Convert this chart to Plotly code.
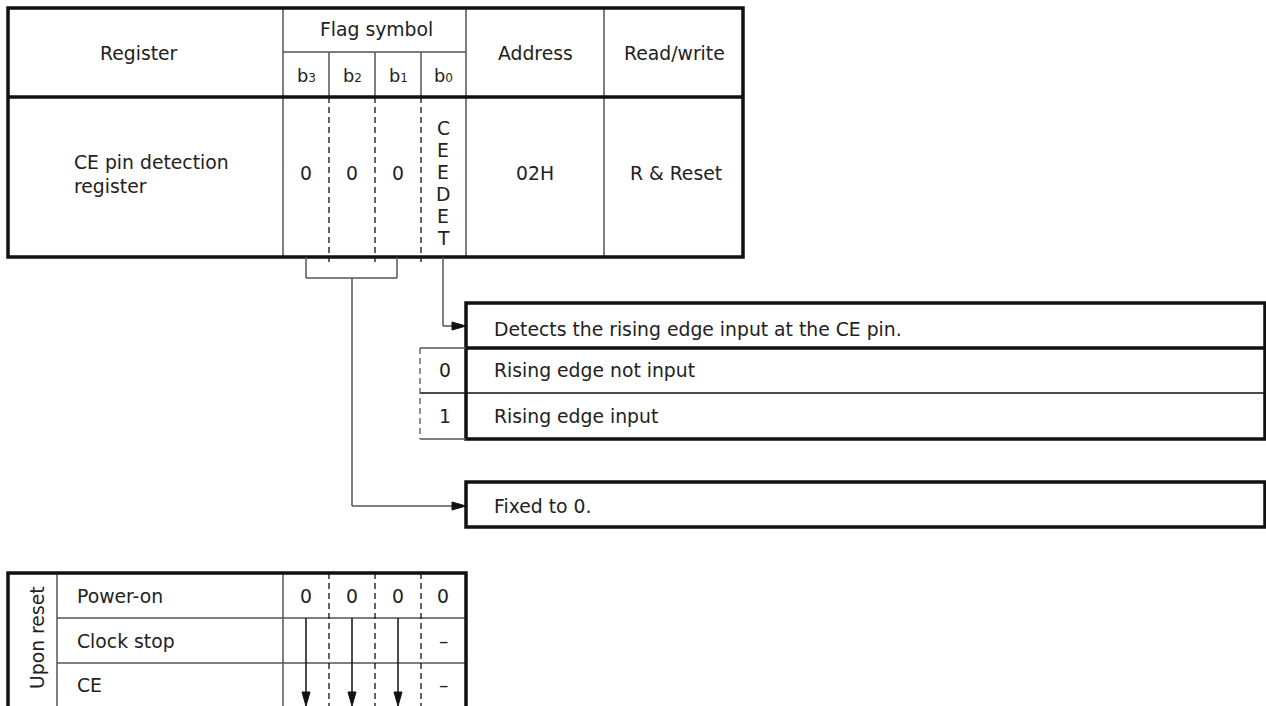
import plotly.graph_objects as go

# ---- content (text data) ----
header_labels = ["Register", "Flag symbol", "Address", "Read/write"]
bit_names = ["b", "b", "b", "b"]
bit_indices = ["3", "2", "1", "0"]
register_name = ["CE pin detection", "register"]
bit_values = ["0", "0", "0"]
flag_name = ["C", "E", "E", "D", "E", "T"]
address = "02H"
read_write = "R & Reset"
ceedet_desc = "Detects the rising edge input at the CE pin."
ceedet_states = ["0", "1"]
ceedet_meanings = ["Rising edge not input", "Rising edge input"]
fixed_desc = "Fixed to 0."
reset_title = "Upon reset"
reset_rows = ["Power-on", "Clock stop", "CE"]
reset_poweron = ["0", "0", "0", "0"]
reset_b0_other = ["–", "–"]

FONT = "DejaVu Sans, Verdana, sans-serif"
FS = 18.8
BLACK = "#111111"
GRAY = "#555555"
TXT = "#222222"

shapes = []
annots = []

def line(x0, y0, x1, y1, w=1.5, color=GRAY, dash=None):
    d = dict(type="line", x0=x0, y0=y0, x1=x1, y1=y1, xref="x", yref="y",
             line=dict(color=color, width=w))
    if dash:
        d["line"]["dash"] = dash
    shapes.append(d)

def rect(x0, y0, x1, y1, w=3.5, color=BLACK):
    shapes.append(dict(type="rect", x0=x0, y0=y0, x1=x1, y1=y1, xref="x", yref="y",
                       line=dict(color=color, width=w), fillcolor="rgba(0,0,0,0)"))

def text(x, y, s, anchor="center", size=FS, angle=0):
    annots.append(dict(x=x, y=y, xref="x", yref="y", text=s, showarrow=False,
                       xanchor=anchor, yanchor="middle", textangle=angle,
                       font=dict(family=FONT, size=size, color=TXT)))

def arrow_head_right(x, y, L=14, h=4):
    shapes.append(dict(type="path", path=f"M {x},{y} L {x-L},{y-h} L {x-L},{y+h} Z",
                       xref="x", yref="y", fillcolor=BLACK, line=dict(color=BLACK, width=1)))

def arrow_head_down(x, y, L=14, h=4):
    shapes.append(dict(type="path", path=f"M {x},{y} L {x-h},{y-L} L {x+h},{y-L} Z",
                       xref="x", yref="y", fillcolor=BLACK, line=dict(color=BLACK, width=1)))

DASH = "6px,4px"

# ---- top register table ----
L, T, R, B = 8, 8, 743, 257
HDIV = 97
SUB = 52
cols = [283, 329, 375, 421, 466, 604]
bit_centers = [306, 352, 398, 443]

line(cols[0], T, cols[0], B)
line(cols[4], T, cols[4], B)
line(cols[5], T, cols[5], B)
line(cols[0], SUB, cols[4], SUB)
for c in cols[1:4]:
    line(c, SUB, c, HDIV)
    line(c, HDIV, c, B + 5, w=1.3, color=BLACK, dash=DASH)
line(L, HDIV, R, HDIV, w=3.5, color=BLACK)
rect(L, T, R, B)

text(139, 53, header_labels[0])
text(376, 29, header_labels[1])
text(535, 53, header_labels[2])
text(674, 53, header_labels[3])
for i in range(4):
    text(bit_centers[i], 75,
         bit_names[i] + "<span style='font-size:12px'>" + bit_indices[i] + "</span>",
         size=FS - 1)
for j, s in enumerate(register_name):
    text(72, 162 + 24 * j, s, anchor="left")
for i, v in enumerate(bit_values):
    text(bit_centers[i], 173, v)
for j, ch in enumerate(flag_name):
    text(bit_centers[3], 128 + 22 * j, ch)
text(535, 173, address)
text(676, 173, read_write)

# ---- connectors ----
line(306, B, 306, 278)
line(397, B, 397, 278)
line(306, 278, 397, 278)
line(352, 278, 352, 506)
line(352, 506, 460, 506)
arrow_head_right(466, 506)
line(443, B, 443, 326)
line(443, 326, 460, 326)
arrow_head_right(466, 326)

# ---- description box 1 ----
BX0, BX1 = 466, 1265
rows1 = [303, 348, 393, 439]
line(BX0, rows1[1], BX1, rows1[1], w=3.5, color=BLACK)
line(BX0, rows1[2], BX1, rows1[2], w=1.5, color=BLACK)
rect(BX0, rows1[0], BX1, rows1[3])
line(420, rows1[1], BX0, rows1[1], w=1.3)
line(420, rows1[2], BX0, rows1[2], w=1.3, color=BLACK)
line(420, rows1[3], BX0, rows1[3], w=1.3)
line(420, rows1[1], 420, rows1[3], w=1.3, dash=DASH)
text(492, 329, ceedet_desc, anchor="left")
for i, (s, m) in enumerate(zip(ceedet_states, ceedet_meanings)):
    yc = (rows1[i + 1] + rows1[i + 2]) / 2
    text(445, yc, s)
    text(492, yc, m, anchor="left")

# ---- description box 2 ----
rect(BX0, 482, BX1, 527)
text(492, 506, fixed_desc, anchor="left")

# ---- reset table ----
RT, RB = 573, 720
rrows = [573, 618, 663]
row_centers = [596, 641, 685]
line(57, RT, 57, RB)
line(283, RT, 283, RB)
for y in rrows[1:]:
    line(57, y, 466, y)
for c in cols[1:4]:
    line(c, RT, c, RB, w=1.3, color=BLACK, dash=DASH)
rect(8, RT, 466, RB)
text(37, 638, reset_title, angle=-90)
for i, r in enumerate(reset_rows):
    text(75, row_centers[i], r, anchor="left")
for i, v in enumerate(reset_poweron):
    text(bit_centers[i], row_centers[0], v)
for j, v in enumerate(reset_b0_other):
    text(bit_centers[3], row_centers[j + 1], v)
for x in bit_centers[:3]:
    line(x, 618, x, 692, w=1.5, color=BLACK)
    arrow_head_down(x, 706)

fig = go.Figure()
fig.update_layout(
    width=1266, height=706,
    margin=dict(l=0, r=0, t=0, b=0),
    paper_bgcolor="white", plot_bgcolor="white",
    xaxis=dict(range=[0, 1266], visible=False, fixedrange=True),
    yaxis=dict(range=[706, 0], visible=False, fixedrange=True),
    shapes=shapes, annotations=annots, showlegend=False,
)
fig.write_html("out.html",
               config={"displayModeBar": False},
               post_script="document.body.style.margin='0';document.body.style.overflow='hidden';")
